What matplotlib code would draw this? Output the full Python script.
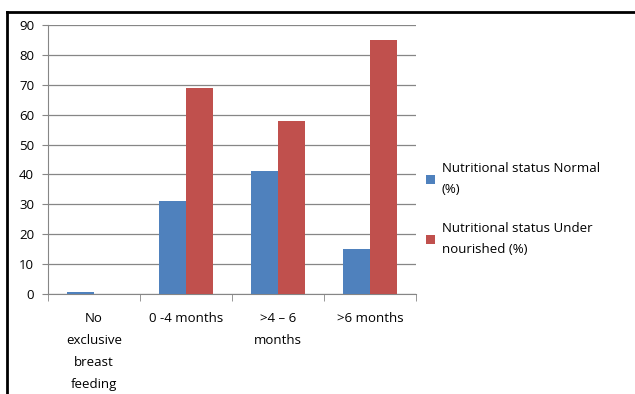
import numpy as np
import matplotlib
matplotlib.use("Agg")
import matplotlib.pyplot as plt
from matplotlib.lines import Line2D

# data
categories = ["No\nexclusive\nbreast\nfeeding", "0 -4 months", ">4 \u2013 6\nmonths", ">6 months"]
normal = [0.7, 31, 41, 15]
under = [0, 69, 58, 85]
series_names = ["Nutritional status Normal\n(%)", "Nutritional status Under\nnourished (%)"]
yticks = [0, 10, 20, 30, 40, 50, 60, 70, 80, 90]

plt.rcParams['font.family'] = ['Open Sans', 'DejaVu Sans']

fig = plt.figure(figsize=(6.35, 3.94), dpi=100)
ax = fig.add_axes([0.0756, 0.2538, 0.5795, 0.6827])

x = np.arange(len(categories)) + 0.5
w = 0.29
ax.bar(x - w / 2, normal, w, color="#4F81BD", label=series_names[0], zorder=3)
ax.bar(x + w / 2, under, w, color="#C0504D", label=series_names[1], zorder=3)

ax.set_xlim(0, len(categories))
ax.set_ylim(0, 90)
ax.set_yticks(yticks)
ax.tick_params(axis="y", labelsize=9.5, length=4, color="#868686", pad=6)
ax.yaxis.grid(True, color="#868686", linewidth=0.9, zorder=0)

ax.set_xticks(x)
ax.set_xticklabels(categories, fontsize=9.5, linespacing=1.9)
ax.tick_params(axis="x", length=0, pad=13)
ax.set_xticks(np.arange(len(categories) + 1), minor=True)
ax.tick_params(axis="x", which="minor", length=5, color="#868686")

for s in ["top", "right"]:
    ax.spines[s].set_visible(False)
ax.spines["left"].set_color("#868686")
ax.spines["bottom"].set_color("#868686")

leg = ax.legend(loc="center left", bbox_to_anchor=(0.995, 0.315), frameon=False, fontsize=9.5,
                handlelength=0.7, handleheight=0.7, handletextpad=0.5, labelspacing=2.0)
for t in leg.get_texts():
    t.set_linespacing(1.8)

# outer frame (left and top edges only visible)
fig.add_artist(Line2D([7 / 635, 7 / 635], [0, 1 - 12 / 394], transform=fig.transFigure, color="black", lw=2))
fig.add_artist(Line2D([7 / 635, 1], [1 - 12 / 394, 1 - 12 / 394], transform=fig.transFigure, color="black", lw=2))

fig.savefig("out.png", dpi=100)
